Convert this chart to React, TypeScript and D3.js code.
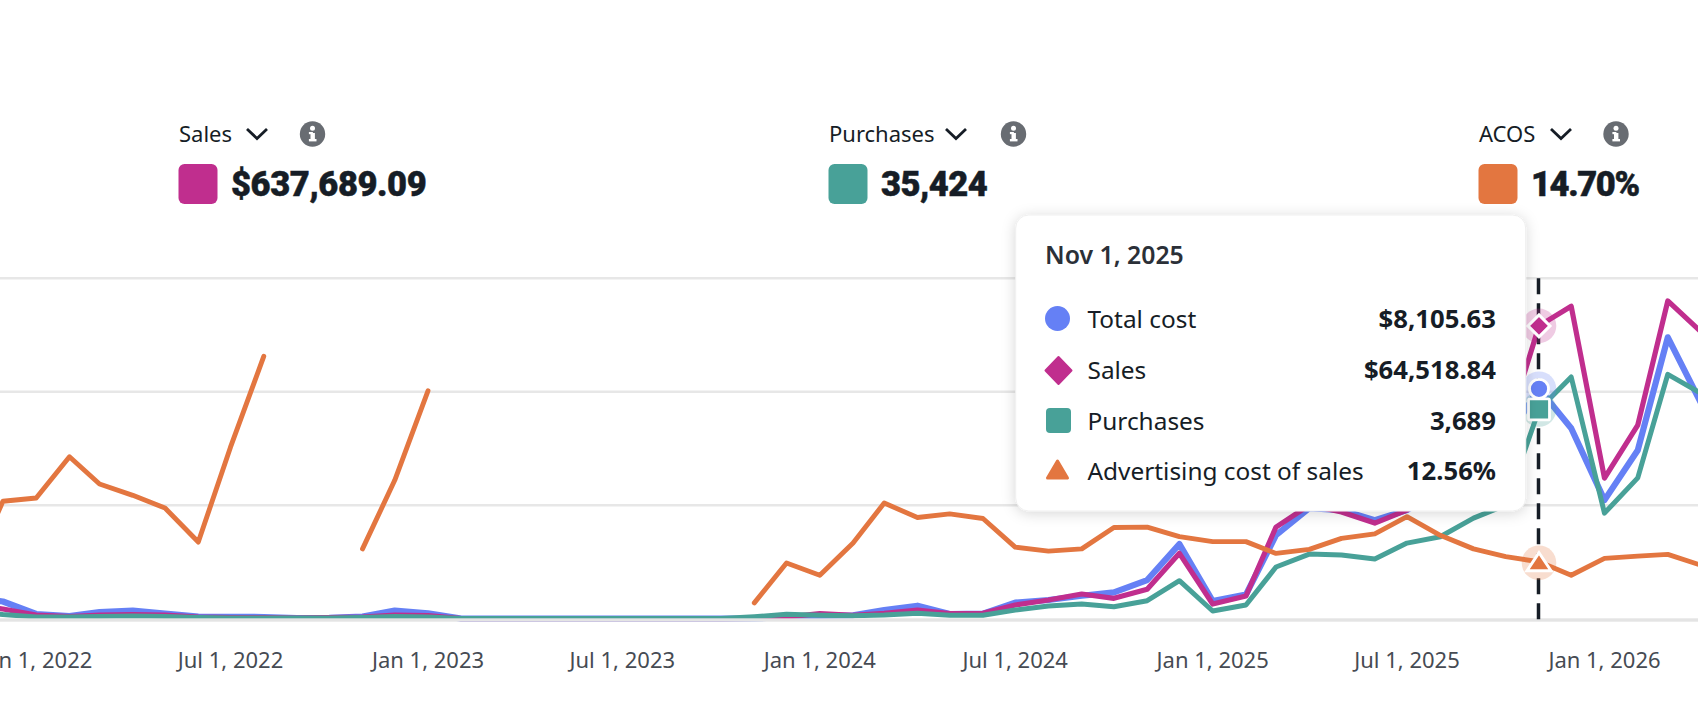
import React from "react";
import * as d3 from "d3";

const W = 1698, H = 716;
// Nov 2021 .. Apr 2026, monthly
const monthStart = "2021-11-01";
const cost = [767,609,169,99,239,289,187,81,70,63,28,30,81,289,194,8,8,8,8,8,8,8,8,8,10,63,99,123,310,461,169,180,567,662,813,933,1366,2633,627,852,2950,3900,3830,3478,3830,4534,5238,6294,8105.63,6716,4182,5942,9919,7596];
const sales = [2817,2157,836,506,836,946,836,396,286,286,176,286,396,836,726,50,50,50,50,50,50,50,50,50,100,396,1123,770,1211,1937,1123,1211,3037,4138,5458,4512,6493,14417,3257,5018,20205,25047,23507,21086,23947,30550,34952,40895,64518.84,68846,30990,42655,70014,63191];
const purchases = [137,76,32,32,40,49,40,23,14,14,14,14,23,40,32,5,5,5,5,5,5,5,5,5,37,79,62,55,67,97,62,62,155,225,260,213,319,671,137,243,912,1140,1123,1052,1334,1445,1774,2003,3689,4261,1862,2483,4308,3974];
const acos = [9.6,25.9,26.6,35.7,29.7,27.2,24.4,16.9,37.8,57.8,null,null,15.4,30.5,50.2,null,null,null,null,null,null,null,null,null,3.5,12.3,9.6,16.7,25.5,22.3,23.1,22.1,15.8,14.9,15.4,20.1,20.2,18.1,17.0,17.0,14.4,15.3,17.7,18.7,22.5,18.4,15.4,13.7,12.56,9.6,13.3,13.8,14.2,11.8];
const tickDates = ["2022-01-01","2022-07-01","2023-01-01","2023-07-01","2024-01-01","2024-07-01","2025-01-01","2025-07-01","2026-01-01"];
const tickLabels = ["Jan 1, 2022","Jul 1, 2022","Jan 1, 2023","Jul 1, 2023","Jan 1, 2024","Jul 1, 2024","Jan 1, 2025","Jul 1, 2025","Jan 1, 2026"];
const gridValues = [0, 25000, 50000, 75000];
const cards = [
  { label: "Sales", value: "$637,689.09", color: "#c02e8e", x: 178.5, chev: 247, info: 312.5, ls: -0.4 },
  { label: "Purchases", value: "35,424", color: "#48a198", x: 828.5, chev: 946, info: 1013.5, ls: -0.5 },
  { label: "ACOS", value: "14.70%", color: "#e37640", x: 1478.5, chev: 1551, info: 1616, ls: -1.4 },
];
const tipRows = [
  { label: "Total cost", value: "$8,105.63", base: 328 },
  { label: "Sales", value: "$64,518.84", base: 379 },
  { label: "Purchases", value: "3,689", base: 429.5 },
  { label: "Advertising cost of sales", value: "12.56%", base: 479.5 },
];
const BLUE = "#6580f5", MAG = "#c02e8e", TEAL = "#48a198", ORG = "#e37640", INK = "#161d26";
const FONT = "'Noto Sans', sans-serif";
const HEAVY = "Roboto, sans-serif";
const parse = (s: string) => new Date(s + "T00:00:00");

export default function App() {
  const months = d3.timeMonth.range(parse(monthStart), parse("2026-05-01"));
  const x = d3.scaleTime().domain([parse("2023-01-01"), parse("2025-11-01")]).range([428, 1539]);
  const Y = (max: number) => d3.scaleLinear().domain([0, max]).range([618.8, 278.3]);
  const yS = Y(75000), yC = Y(12000), yP = Y(6000), yA = Y(75);
  const path = (vals: (number | null)[], y: d3.ScaleLinear<number, number>) =>
    d3.line<number | null>()
      .defined((d) => d != null)
      .x((_, i) => x(months[i]))
      .y((d) => y(d as number))(vals) as string;
  const hi = 48;
  const hx = x(months[hi]);
  const series = [
    { vals: cost, y: yC, c: BLUE, w: 6.2 },
    { vals: sales, y: yS, c: MAG, w: 5.2 },
    { vals: purchases, y: yP, c: TEAL, w: 5 },
    { vals: acos, y: yA, c: ORG, w: 4.9 },
  ];
  const ay = yA(acos[hi] as number);
  const sy = yS(sales[hi]);
  return (
    <svg width={W} height={H} viewBox={`0 0 ${W} ${H}`} style={{ position: "absolute", left: 0, top: 0, display: "block", background: "#fff" }}>
      <defs>
        <filter id="sh" x="-10%" y="-10%" width="120%" height="125%">
          <feDropShadow dx="0" dy="2" stdDeviation="7" floodColor="#000" floodOpacity="0.16" />
        </filter>
      </defs>
      {cards.map((c) => (
        <g key={c.label}>
          <text x={c.x + 0.5} y={141.5} fontFamily={FONT} fontSize={22} fill={INK}>{c.label}</text>
          <path d={`M${c.chev} ${129}L${c.chev + 10} ${138.5}L${c.chev + 20} ${129}`} fill="none" stroke={INK} strokeWidth={2.8} />
          <circle cx={c.info} cy={134} r={12.7} fill="#686c72" />
          <rect x={c.info - 2} y={133} width={4.4} height={7.5} fill="#fff" />
          <rect x={c.info - 3.6} y={139} width={7.6} height={2.4} fill="#fff" />
          <rect x={c.info - 3.6} y={132} width={4} height={2.2} fill="#fff" />
          <circle cx={c.info} cy={128.2} r={2.5} fill="#fff" />
          <rect x={c.x} y={164} width={39} height={40} rx={6} fill={c.color} />
          <text x={c.x + 52.5} y={196} fontFamily={HEAVY} fontWeight={900} fontSize={34.5} letterSpacing={c.ls} stroke={INK} strokeWidth={0.5} fill={INK}>{c.value}</text>
        </g>
      ))}
      {gridValues.filter((v) => v > 0).map((v) => (
        <line key={v} x1={0} x2={W} y1={yS(v)} y2={yS(v)} stroke="#e7e7e7" strokeWidth={2.4} />
      ))}
      {series.map((s, i) => (
        <path key={i} d={path(s.vals, s.y)} fill="none" stroke={s.c} strokeWidth={s.w} strokeLinejoin="round" strokeLinecap="round" />
      ))}
      <rect x={0} y={618.3} width={W} height={3.4} fill="#e4e4e4" />
      {tickDates.map((d, i) => (
        <text key={d} x={x(parse(d))} y={668.3} textAnchor="middle" fontFamily={FONT} fontSize={22} fill="#464b53">{tickLabels[i]}</text>
      ))}
      <line x1={hx - 0.5} x2={hx - 0.5} y1={278.3} y2={619.5} stroke={INK} strokeWidth={3.5} strokeDasharray="16 9" />
      <g>
        <circle cx={hx} cy={yC(cost[hi])} r={17.3} fill={BLUE} opacity={0.25} />
        <circle cx={hx} cy={sy} r={17.3} fill={MAG} opacity={0.25} />
        <circle cx={hx} cy={yP(purchases[hi])} r={17.3} fill={TEAL} opacity={0.25} />
        <circle cx={hx} cy={ay + 1} r={17.3} fill={ORG} opacity={0.25} />
        <circle cx={hx} cy={yC(cost[hi])} r={9.5} fill={BLUE} stroke="#fff" strokeWidth={2.8} />
        <path d={`M${hx} ${sy - 11}L${hx + 11} ${sy}L${hx} ${sy + 11}L${hx - 11} ${sy}Z`} fill={MAG} stroke="#fff" strokeWidth={3} />
        <rect x={hx - 10.5} y={yP(purchases[hi]) - 10.5} width={21} height={21} rx={1.5} fill={TEAL} stroke="#fff" strokeWidth={2.8} />
        <path d={`M${hx} ${ay - 9}L${hx + 12} ${ay + 9}L${hx - 12} ${ay + 9}Z`} fill={ORG} stroke="#fff" strokeWidth={3} />
      </g>
      <g>
        <rect x={1015.7} y={215} width={510} height={296} rx={13} fill="#fff" stroke="#efefef" strokeWidth={1} filter="url(#sh)" />
        <text x={1045} y={264} fontFamily={FONT} fontWeight={600} fontSize={24.8} fill="#2b3038">Nov 1, 2025</text>
        <circle cx={1057.5} cy={318.5} r={12.5} fill={BLUE} />
        <path d="M1058.5 357L1071.5 370.5L1058.5 384L1045.5 370.5Z" fill={MAG} stroke={MAG} strokeWidth={2} strokeLinejoin="round" />
        <rect x={1046} y={408} width={25} height={25} rx={4} fill={TEAL} />
        <path d="M1057.5 461L1067.5 478L1047.5 478Z" fill={ORG} stroke={ORG} strokeWidth={3} strokeLinejoin="round" />
        {tipRows.map((r) => (
          <g key={r.label}>
            <text x={1087.5} y={r.base} fontFamily={FONT} fontSize={24.4} fill={INK}>{r.label}</text>
            <text x={1496} y={r.base} textAnchor="end" fontFamily={FONT} fontWeight={700} fontSize={25.7} fill={INK}>{r.value}</text>
          </g>
        ))}
      </g>
    </svg>
  );
}
